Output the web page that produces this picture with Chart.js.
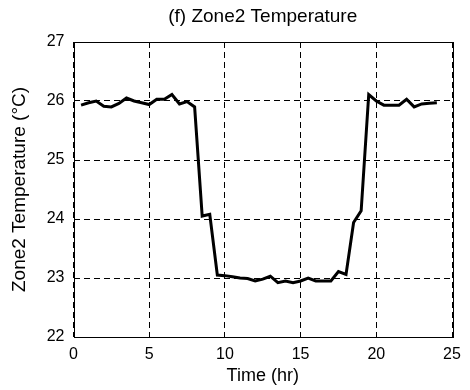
<!DOCTYPE html>
<html>
<head>
<meta charset="utf-8">
<title>Zone2 Temperature</title>
<script src="https://cdn.jsdelivr.net/npm/chart.js@4.4.1/dist/chart.umd.min.js"></script>
<style>
  html, body { margin: 0; padding: 0; background: #fff; }
  #wrap { width: 470px; height: 390px; }
</style>
</head>
<body>
<div id="wrap"><canvas id="tempChart" width="470" height="390"></canvas></div>
<script>
// half-hourly samples over the day
const hours = [
  0.5, 1, 1.5, 2, 2.5, 3, 3.5, 4, 4.5, 5, 5.5, 6, 6.5, 7, 7.5, 8,
  8.5, 9, 9.5, 10, 10.5, 11, 11.5, 12, 12.5, 13, 13.5, 14, 14.5, 15, 15.5, 16,
  16.5, 17, 17.5, 18, 18.5, 19, 19.5, 20, 20.5, 21, 21.5, 22, 22.5, 23, 23.5, 24
];
const zone2Temp = [
  25.93, 25.97, 26.00, 25.91, 25.90, 25.96, 26.05, 26.00, 25.97, 25.94, 26.03, 26.03, 26.11, 25.95, 25.99, 25.90,
  24.05, 24.08, 23.05, 23.04, 23.02, 23.00, 22.99, 22.95, 22.98, 23.03, 22.92, 22.95, 22.92, 22.95, 23.00, 22.95,
  22.95, 22.95, 23.11, 23.06, 23.94, 24.14, 26.11, 26.00, 25.93, 25.93, 25.93, 26.03, 25.90, 25.95, 25.96, 25.97
];
const xTicks = [0, 5, 10, 15, 20, 25];
const yTicks = [22, 23, 24, 25, 26, 27];
const chartTitle = "(f) Zone2 Temperature";

const FONT = "'Liberation Sans', Arial, Helvetica, sans-serif";

// solid box around the plot area, title centred over the axes
const frameBox = {
  id: "frameBox",
  afterDraw(chart) {
    const { ctx, chartArea: a } = chart;
    ctx.save();
    ctx.strokeStyle = "#000";
    ctx.lineWidth = 1;
    ctx.strokeRect(Math.round(a.left) + 0.5, Math.round(a.top) + 0.5,
      Math.round(a.right - a.left), Math.round(a.bottom - a.top));
    ctx.fillStyle = "#000";
    ctx.font = "19px " + FONT;
    ctx.textAlign = "center";
    ctx.textBaseline = "middle";
    ctx.fillText(chartTitle, (a.left + a.right) / 2, 17);
    ctx.restore();
  }
};

const gridStyle = {
  color: "#000",
  lineWidth: 1,
  drawTicks: false
};

new Chart(document.getElementById("tempChart"), {
  type: "line",
  data: {
    datasets: [{
      data: hours.map((h, i) => ({ x: h, y: zone2Temp[i] })),
      borderColor: "#000",
      borderWidth: 3,
      pointRadius: 0,
      tension: 0,
      fill: false
    }]
  },
  options: {
    responsive: false,
    animation: false,
    devicePixelRatio: 1,
    layout: { padding: { left: 0, right: 18, top: 42, bottom: 0 } },
    plugins: {
      legend: { display: false },
      tooltip: { enabled: false },
      title: { display: false }
    },
    scales: {
      x: {
        type: "linear",
        min: 0,
        max: 25,
        afterBuildTicks: s => { s.ticks = xTicks.map(v => ({ value: v })); },
        afterFit: s => { s.height = 53; },
        grid: gridStyle,
        border: { display: false, dash: [6, 4] },
        ticks: {
          color: "#000",
          padding: 8,
          maxRotation: 0,
          font: { family: FONT, size: 16 }
        },
        title: {
          display: true,
          text: "Time (hr)",
          color: "#000",
          font: { family: FONT, size: 18 },
          padding: { top: 0, bottom: 3 }
        }
      },
      y: {
        min: 22,
        max: 27,
        afterBuildTicks: s => { s.ticks = yTicks.map(v => ({ value: v })); },
        afterFit: s => { s.width = 73.5; },
        grid: gridStyle,
        border: { display: false, dash: [6, 4] },
        ticks: {
          color: "#000",
          padding: 9,
          font: { family: FONT, size: 16 }
        },
        title: {
          display: true,
          text: "Zone2 Temperature (°C)",
          color: "#000",
          font: { family: FONT, size: 19 },
          padding: { top: 8, bottom: 0 }
        }
      }
    }
  },
  plugins: [frameBox]
});
</script>
</body>
</html>
